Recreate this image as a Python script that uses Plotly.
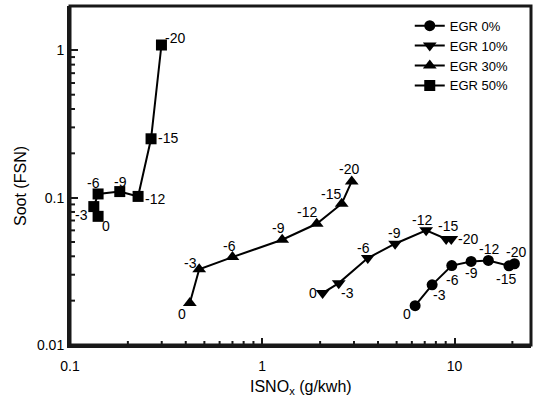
import numpy as np
import plotly.graph_objects as go

# ---- data ----
timing_labels = ["0", "-3", "-6", "-9", "-12", "-15", "-20"]

egr0_nox = [6.24, 7.65, 9.68, 12.2, 15.0, 19.2, 20.5]
egr0_soot = [0.0185, 0.0256, 0.0346, 0.0369, 0.0375, 0.0345, 0.0356]

egr10_nox = [2.06, 2.50, 3.54, 4.91, 7.12, 9.05, 9.62]
egr10_soot = [0.0225, 0.0263, 0.0389, 0.0487, 0.0600, 0.0524, 0.0524]

egr30_nox = [0.42, 0.47, 0.70, 1.27, 1.92, 2.59, 2.92]
egr30_soot = [0.0193, 0.0327, 0.0395, 0.0518, 0.0665, 0.091, 0.129]

egr50_nox = [0.140, 0.133, 0.140, 0.1815, 0.226, 0.264, 0.299]
egr50_soot = [0.0747, 0.087, 0.106, 0.110, 0.102, 0.251, 1.087]

series_names = ["EGR 0%", "EGR 10%", "EGR 30%", "EGR 50%"]

x_major = [0.1, 1, 10]
x_major_text = ["0.1", "1", "10"]
y_major = [0.01, 0.1, 1]
y_major_text = ["0.01", "0.1", "1"]

x_title = "ISNO<sub>x</sub> (g/kwh)"
y_title = "Soot (FSN)"

# ---- styles / label offsets (px: dx right, dy down) ----
FONT = "Liberation Sans"
K = "#000000"
FRAME = "rgb(24,24,24)"
symbols = ["circle", "triangle-down", "triangle-up", "square"]
sizes = [11, 12, 12, 11]
offsets = [
    [(-8, 8), (7, 10), (1, 14), (0, 12), (1, -11), (-3, 13), (2, -12)],
    [(-10, 0), (9, 10), (-4, -10), (-1, -11), (-4, -10), (2, -13), (17, 0)],
    [(-8, 11), (-9, -6), (-3, -11), (-4, -12), (-10, -12), (-11, -10), (-3, -12)],
    [(8, 10), (-12, 8), (-5, -11), (1, -10), (17, 3), (17, -1), (14, -7)],
]

data = [
    (egr0_nox, egr0_soot),
    (egr10_nox, egr10_soot),
    (egr30_nox, egr30_soot),
    (egr50_nox, egr50_soot),
]

XR = [float(np.log10(0.1)), float(np.log10(25))]
YR = [float(np.log10(0.01)), float(np.log10(2))]

fig = go.Figure()
annotations = []
for (xs, ys), name, sym, sz, offs in zip(data, series_names, symbols, sizes, offsets):
    fig.add_trace(go.Scatter(
        x=xs, y=ys, name=name, mode="lines+markers",
        line=dict(color=K, width=2),
        marker=dict(symbol=sym, size=sz, color=K),
    ))
    for xv, yv, lab, (dx, dy) in zip(xs, ys, timing_labels, offs):
        annotations.append(dict(
            x=float(np.log10(xv)), y=float(np.log10(yv)), xref="x", yref="y",
            text=lab, showarrow=False, xshift=dx, yshift=-dy,
            font=dict(family=FONT, size=14, color=K),
        ))

annotations.append(dict(
    text=x_title, xref="paper", yref="paper", x=0.5, y=-0.126,
    xanchor="center", yanchor="middle", showarrow=False,
    font=dict(family=FONT, size=16, color=K),
))
annotations.append(dict(
    text=y_title, xref="paper", yref="paper", x=-0.1085, y=0.469,
    xanchor="center", yanchor="middle", showarrow=False, textangle=-90,
    font=dict(family=FONT, size=16, color=K),
))

x_minor = [round(v * d, 3) for d in (0.1, 1, 10) for v in range(2, 10) if v * d <= 25]
y_minor = [round(v * d, 4) for d in (0.01, 0.1, 1) for v in range(2, 10) if v * d <= 2]

shapes = [dict(type="rect", xref="paper", yref="paper", x0=0, x1=1, y0=0, y1=1,
               line=dict(color=FRAME, width=3), layer="above")]
for v in x_minor:
    shapes.append(dict(type="line", xref="x", yref="y domain", x0=v, x1=v,
                       ysizemode="pixel", yanchor=0, y0=0, y1=4,
                       line=dict(color=FRAME, width=2), layer="above"))
for v in y_minor:
    shapes.append(dict(type="line", yref="y", xref="x domain", y0=v, y1=v,
                       xsizemode="pixel", xanchor=0, x0=0, x1=5,
                       line=dict(color=FRAME, width=2), layer="above"))

fig.update_layout(
    width=536, height=397,
    margin=dict(l=70, r=5, t=6, b=52),
    plot_bgcolor="white",
    annotations=annotations,
    shapes=shapes,
    showlegend=True,
    legend=dict(
        x=0.737, y=0.986, xanchor="left", yanchor="top",
        bgcolor="rgba(0,0,0,0)",
        font=dict(family=FONT, size=13, color=K),
    ),
    xaxis=dict(
        type="log", range=XR,
        tickmode="array", tickvals=x_major, ticktext=x_major_text,
        showline=True, linewidth=3, linecolor=FRAME,
        showgrid=False, zeroline=False,
        ticks="inside", ticklen=7, tickwidth=2, tickcolor=FRAME,
        ticklabelstandoff=6,
        tickfont=dict(family=FONT, size=14, color=K),
    ),
    yaxis=dict(
        type="log", range=YR,
        tickmode="array", tickvals=y_major, ticktext=y_major_text,
        showline=True, linewidth=3, linecolor=FRAME,
        showgrid=False, zeroline=False,
        ticks="inside", ticklen=8, tickwidth=2, tickcolor=FRAME,
        tickfont=dict(family=FONT, size=14, color=K),
    ),
)

fig.write_html("out.html")
